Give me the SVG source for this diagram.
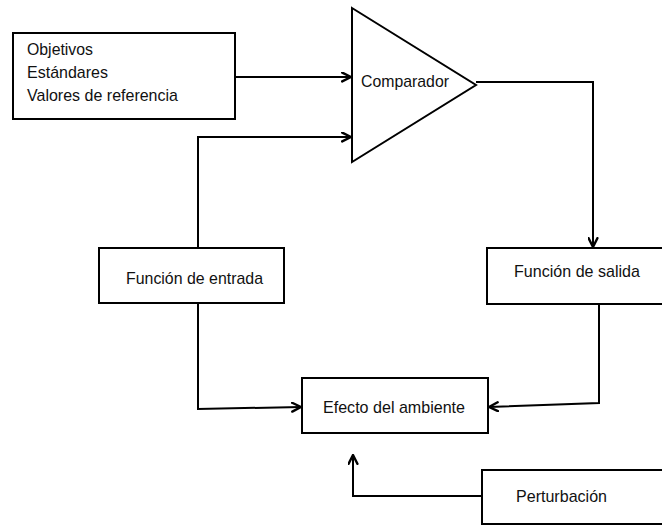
<svg xmlns="http://www.w3.org/2000/svg" width="662" height="527" viewBox="0 0 662 527">
  <defs>
    <marker id="arrow" viewBox="0 0 10 10" refX="9" refY="5" markerWidth="5.5" markerHeight="5.5" markerUnits="strokeWidth" orient="auto">
      <path d="M1,1 L9,5 L1,9" fill="none" stroke="#000" stroke-width="2.2" stroke-linecap="round" stroke-linejoin="round"/>
    </marker>
    <style>
      .box { fill: #fff; stroke: #000; stroke-width: 2; }
      .lbl { font-family: "Liberation Sans", Arial, sans-serif; font-size: 17px; fill: #111; }
      .wire { fill: none; stroke: #000; stroke-width: 2; marker-end: url(#arrow); }
    </style>
  </defs>
  <rect width="662" height="527" fill="#fff"/>

  <g id="connectors">
    <path class="wire" d="M235,77 L351,77"/>
    <path class="wire" d="M198,248 L198,137 L351,137"/>
    <path class="wire" d="M476,82 L593,82 L593,247"/>
    <path class="wire" d="M599,304 L599,403 L489,407"/>
    <path class="wire" d="M198,304 L198,409 L301,407"/>
    <path class="wire" d="M482,496 L353,496 L353,455"/>
  </g>

  <g id="objetivos">
    <rect class="box" x="13" y="33" width="222" height="86"/>
    <text class="lbl" x="27" y="55" textLength="66" lengthAdjust="spacingAndGlyphs">Objetivos</text>
    <text class="lbl" x="27" y="78" textLength="81" lengthAdjust="spacingAndGlyphs">Estándares</text>
    <text class="lbl" x="27" y="101" textLength="151" lengthAdjust="spacingAndGlyphs">Valores de referencia</text>
  </g>

  <g id="comparador">
    <polygon class="box" points="352,8 476,85 352,162"/>
    <text class="lbl" x="361" y="87" textLength="88" lengthAdjust="spacingAndGlyphs">Comparador</text>
  </g>

  <g id="funcion-entrada">
    <rect class="box" x="99" y="248" width="185" height="55"/>
    <text class="lbl" x="126" y="284" textLength="137" lengthAdjust="spacingAndGlyphs">Función de entrada</text>
  </g>

  <g id="funcion-salida">
    <rect class="box" x="487" y="248" width="185" height="56"/>
    <text class="lbl" x="514" y="277" textLength="126" lengthAdjust="spacingAndGlyphs">Función de salida</text>
  </g>

  <g id="efecto-ambiente">
    <rect class="box" x="302" y="378" width="186" height="55"/>
    <text class="lbl" x="323" y="413" textLength="142" lengthAdjust="spacingAndGlyphs">Efecto del ambiente</text>
  </g>

  <g id="perturbacion">
    <rect class="box" x="482" y="470" width="190" height="54"/>
    <text class="lbl" x="516" y="502" textLength="91" lengthAdjust="spacingAndGlyphs">Perturbación</text>
  </g>
</svg>
